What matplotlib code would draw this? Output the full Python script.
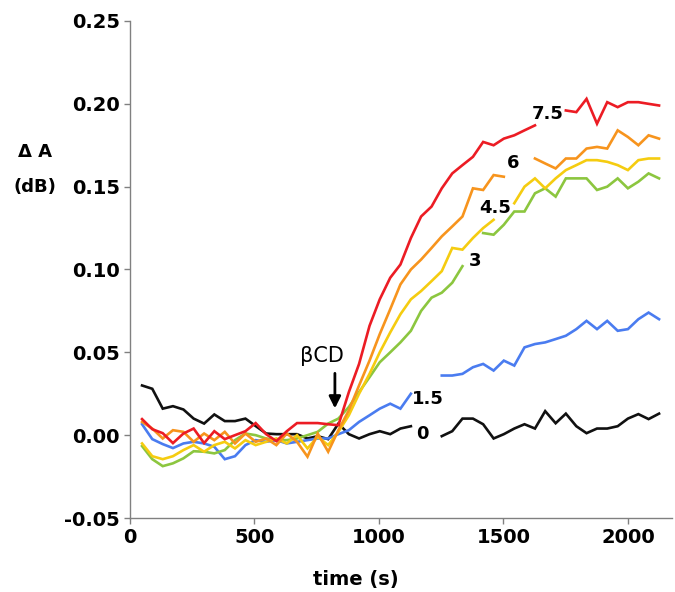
import numpy as np
import matplotlib
matplotlib.use("Agg")
import matplotlib.pyplot as plt

nan = np.nan
time = [50, 91, 133, 174, 216, 257, 299, 340, 382, 423, 465, 506, 548, 589, 631,
        672, 714, 755, 797, 838, 880, 921, 963, 1004, 1046, 1087, 1129, 1170, 1212,
        1253, 1295, 1336, 1378, 1419, 1461, 1502, 1544, 1585, 1627, 1668, 1710, 1751,
        1793, 1834, 1876, 1917, 1959, 2000, 2042, 2083, 2125]

s0 = [0.030, 0.028, 0.016, 0.0175, 0.0155, 0.010, 0.007, 0.0125, 0.0085, 0.0085, 0.010,
      0.0055, 0.001, 0.0006, 0.0006, 0.0006, -0.002, -0.0006, -0.0024, 0.007, 0.0006,
      -0.002, 0.0006, 0.0024, 0.0006, 0.004, 0.0054, nan, nan,
      -0.0006, 0.0024, 0.010, 0.010, 0.0066, -0.002, 0.0006, 0.004, 0.0066, 0.004,
      0.0145, 0.0072, 0.013, 0.0054, 0.0012, 0.004, 0.004, 0.0054, 0.010, 0.0127,
      0.0097, 0.013]

s15 = [0.0066, -0.0024, -0.0054, -0.0078, -0.005, -0.004, -0.005, -0.007, -0.0145,
       -0.0127, -0.006, -0.003, -0.004, -0.003, -0.005, -0.004, -0.003, -0.002, -0.002,
       0.0006, 0.003, 0.008, 0.012, 0.016, 0.019, 0.016, 0.025, nan, nan,
       0.036, 0.036, 0.037, 0.041, 0.043, 0.039, 0.045, 0.042, 0.053, 0.055, 0.056,
       0.058, 0.060, 0.064, 0.069, 0.064, 0.069, 0.063, 0.064, 0.070, 0.074, 0.070]

s3 = [-0.0066, -0.0145, -0.0187, -0.017, -0.014, -0.0097, -0.010, -0.011, -0.009,
      -0.003, 0.001, 0.000, -0.002, -0.003, -0.003, -0.002, 0.000, 0.002, 0.007, 0.010,
      0.017, 0.026, 0.035, 0.044, 0.050, 0.056, 0.063, 0.075, 0.083, 0.086, 0.092,
      0.102, nan, 0.122, 0.121, 0.127, 0.135, 0.135, 0.146, 0.149, 0.144, 0.155,
      0.155, 0.155, 0.148, 0.150, 0.155, 0.149, 0.153, 0.158, 0.155]

s45 = [-0.005, -0.0127, -0.0145, -0.0127, -0.009, -0.006, -0.010, -0.006, -0.004,
       -0.008, -0.003, -0.006, -0.004, -0.002, -0.005, 0.000, -0.008, -0.001, -0.006,
       0.002, 0.012, 0.025, 0.037, 0.050, 0.062, 0.073, 0.082, 0.087, 0.093, 0.099,
       0.113, 0.112, 0.119, 0.125, 0.130, nan, 0.140, 0.150, 0.155, 0.149, 0.155,
       0.160, 0.163, 0.166, 0.166, 0.165, 0.163, 0.160, 0.166, 0.167, 0.167]

s6 = [0.008, 0.004, -0.002, 0.003, 0.002, -0.004, 0.001, -0.003, 0.002, -0.005, 0.001,
      -0.004, -0.002, -0.006, 0.001, -0.004, -0.013, 0.001, -0.010, 0.003,
      0.015, 0.030, 0.045, 0.061, 0.076, 0.091, 0.100, 0.106, 0.113, 0.120, 0.126,
      0.132, 0.149, 0.148, 0.157, 0.156, nan, nan, 0.167, 0.164, 0.161, 0.167,
      0.167, 0.173, 0.174, 0.173, 0.184, 0.180, 0.175, 0.181, 0.179]

s75 = [0.0097, 0.0036, 0.0012, -0.0048, 0.001, 0.004, -0.0048, 0.0024, -0.0024, 0.000,
       0.0024, 0.0073, 0.0006, -0.0036, 0.0024, 0.0073, 0.0073, 0.0073, 0.0066, 0.006,
       0.026, 0.043, 0.066, 0.082, 0.095, 0.103, 0.119, 0.132, 0.138, 0.149, 0.158,
       0.163, 0.168, 0.177, 0.175, 0.179, 0.181, 0.184, 0.187, nan, nan, 0.196,
       0.195, 0.203, 0.188, 0.201, 0.198, 0.201, 0.201, 0.200, 0.199]

series = [s0, s15, s3, s45, s6, s75]
names = ["0", "1.5", "3", "4.5", "6", "7.5"]
colors = ["#111111", "#4a7cf0", "#8cc63f", "#f5cc10", "#f7941d", "#ec1c24"]
label_pos = [(1177, 0.0006), (1198, 0.022), (1386, 0.105), (1466, 0.137),
             (1539, 0.164), (1679, 0.194)]

fig = plt.figure(figsize=(6.75, 5.92), dpi=100)
ax = fig.add_axes([129.6 / 675, 1 - 518 / 592, (672 - 129.6) / 675, (518 - 21) / 592])

for s, c in zip(series, colors):
    ax.plot(time, s, color=c, lw=1.9, solid_joinstyle="miter")

for n, (x, y) in zip(names, label_pos):
    ax.text(x, y, n, fontsize=13, fontweight="bold", ha="center", va="center",
            family="DejaVu Sans")

ax.text(772, 0.048, "βCD", fontsize=15, ha="center", va="center", family="DejaVu Sans")
ax.annotate("", xy=(824, 0.0145), xytext=(824, 0.039),
            arrowprops=dict(arrowstyle="-|>,head_width=0.35,head_length=0.7",
                            color="black", lw=2))

ax.set_xlim(0, 2177)
ax.set_ylim(-0.05, 0.25)
ax.set_xticks([0, 500, 1000, 1500, 2000])
ax.set_yticks([-0.05, 0.0, 0.05, 0.10, 0.15, 0.20, 0.25])
ax.set_yticklabels(["-0.05", "0.00", "0.05", "0.10", "0.15", "0.20", "0.25"])

for sp in ["top", "right"]:
    ax.spines[sp].set_visible(False)
for sp in ["left", "bottom"]:
    ax.spines[sp].set_color("#808080")
    ax.spines[sp].set_linewidth(1.0)
ax.tick_params(direction="out", length=4, width=1, color="#808080", pad=3)
for lab in ax.get_xticklabels() + ax.get_yticklabels():
    lab.set_fontsize(14)
    lab.set_fontweight("bold")
    lab.set_family("DejaVu Sans")

ax.set_xlabel("time (s)", fontsize=14, fontweight="bold", family="DejaVu Sans")
ax.xaxis.set_label_coords(0.417, -0.105)

fig.text(35 / 675, 1 - 152 / 592, "Δ A", fontsize=13, fontweight="bold",
         ha="center", va="center", family="DejaVu Sans")
fig.text(35 / 675, 1 - 187 / 592, "(dB)", fontsize=13, fontweight="bold",
         ha="center", va="center", family="DejaVu Sans")

fig.savefig("out.png", dpi=100)
